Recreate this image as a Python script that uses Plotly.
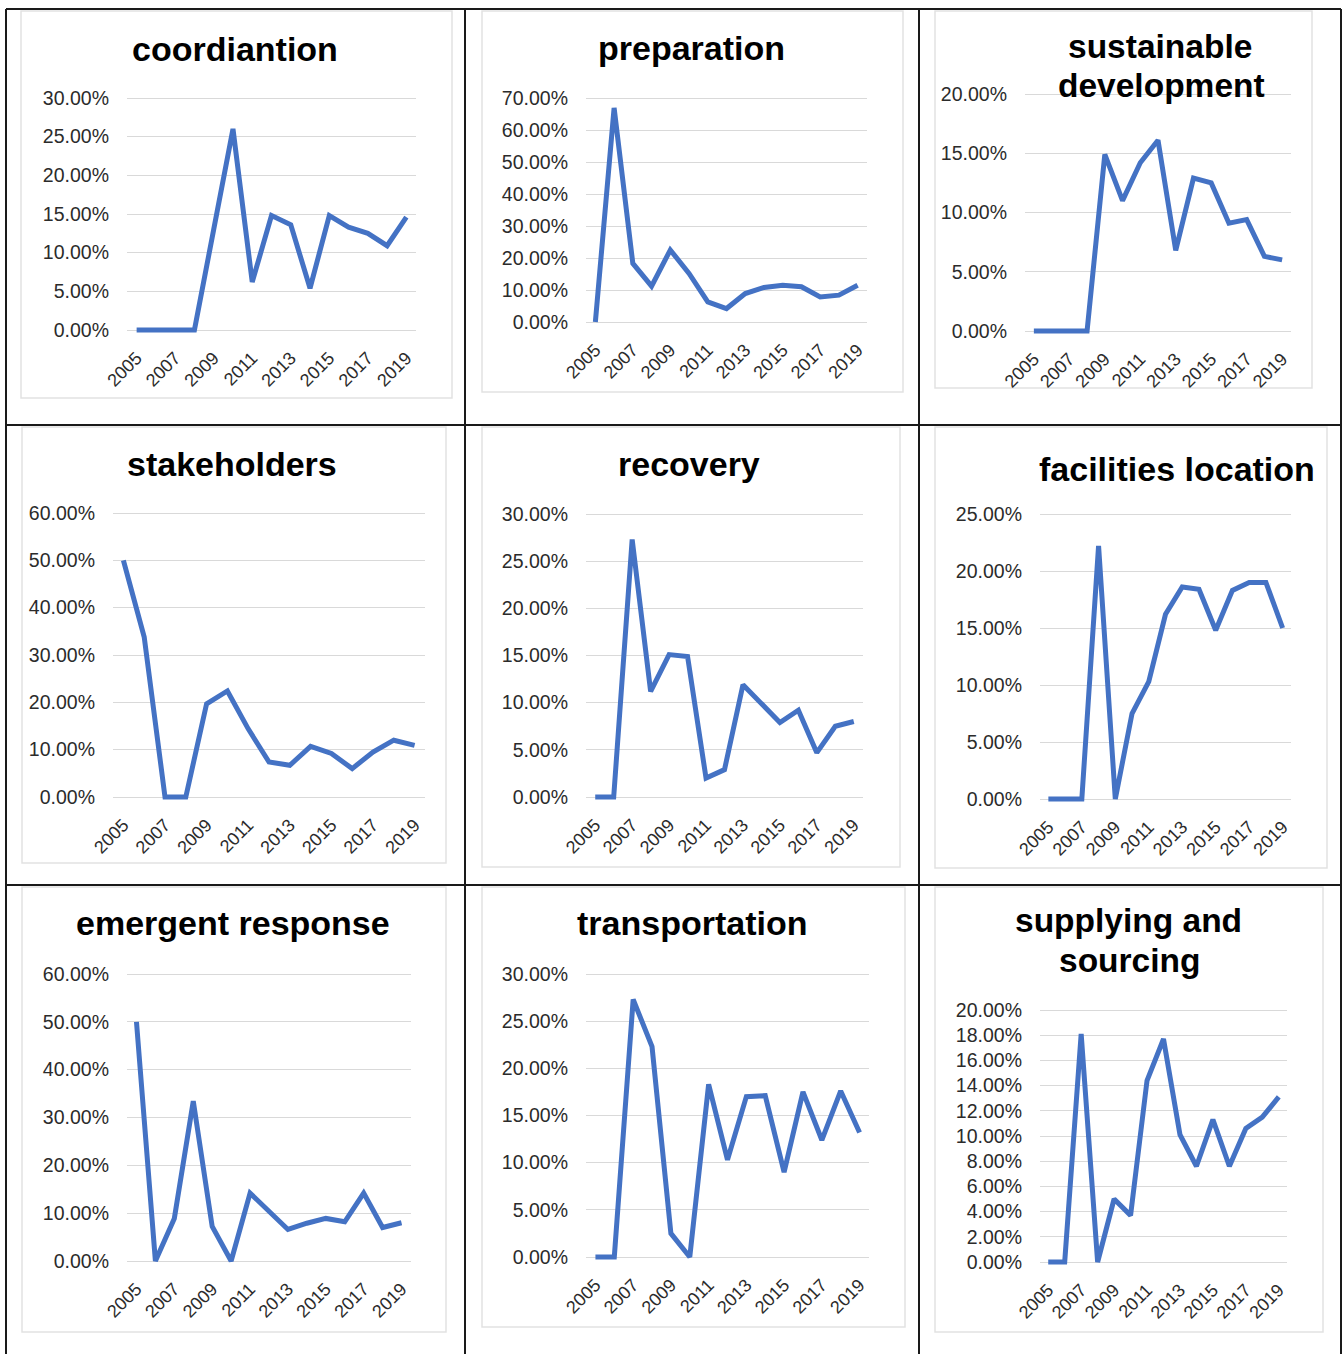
import plotly.graph_objects as go

# ---------------- data (percent values) ----------------
years = list(range(2005, 2020))
year_ticks = [2005, 2007, 2009, 2011, 2013, 2015, 2017, 2019]

coordination = [0, 0, 0, 0, 13.0, 26.0, 6.2, 14.8, 13.6, 5.4, 14.8, 13.3, 12.5, 10.9, 14.6]
preparation = [0, 66.9, 18.3, 11.2, 22.5, 15.2, 6.3, 4.2, 8.9, 10.8, 11.5, 11.0, 7.8, 8.4, 11.5]
sustainable = [0, 0, 0, 0, 14.9, 11.0, 14.2, 16.1, 6.8, 12.9, 12.5, 9.1, 9.4, 6.3, 6.0]
stakeholders = [50.0, 33.8, 0, 0, 19.7, 22.4, 14.4, 7.4, 6.7, 10.7, 9.2, 6.0, 9.5, 12.0, 10.9]
recovery = [0, 0, 27.3, 11.2, 15.1, 14.9, 2.0, 2.9, 11.9, 9.9, 7.9, 9.2, 4.7, 7.5, 8.0]
facilities = [0, 0, 0, 22.2, 0, 7.5, 10.3, 16.2, 18.6, 18.4, 14.8, 18.3, 19.0, 19.0, 15.0]
emergent = [50.0, 0, 8.9, 33.4, 7.2, 0, 14.2, 10.3, 6.6, 7.9, 8.9, 8.2, 14.2, 7.0, 8.0]
transportation = [0, 0, 27.3, 22.3, 2.5, 0, 18.3, 10.3, 17.0, 17.1, 9.0, 17.5, 12.4, 17.6, 13.2]
supplying = [0, 0, 18.1, 0, 5.0, 3.7, 14.4, 17.7, 10.1, 7.6, 11.3, 7.6, 10.6, 11.5, 13.1]

titles = [
    ["coordiantion"],
    ["preparation"],
    ["sustainable", "development"],
    ["stakeholders"],
    ["recovery"],
    ["facilities location"],
    ["emergent response"],
    ["transportation"],
    ["supplying and", "sourcing"],
]
series = [coordination, preparation, sustainable, stakeholders, recovery,
          facilities, emergent, transportation, supplying]
y_max = [30, 70, 20, 60, 30, 25, 60, 30, 20]
y_step = [5, 10, 5, 10, 5, 5, 10, 5, 2]

# ---------------- layout geometry (pixels) ----------------
W, H = 1344, 1354
# plot area: x_left, x_right, y_top(max gridline), y_zero
plot_px = [
    (127, 416, 98, 330),
    (586, 867, 98, 322),
    (1025, 1291, 94, 331),
    (113, 425, 513, 797),
    (586, 863, 514, 797),
    (1040, 1291, 514, 799),
    (127, 411, 974, 1261),
    (586, 869, 974, 1257),
    (1040, 1287, 1010, 1262),
]
# title line centres (x, y) in pixels, and title font size
title_px = [
    [(235, 48.5)],
    [(691, 48)],
    [(1160, 46.5), (1161, 85)],
    [(232, 463.5)],
    [(689, 463.5)],
    [(1177, 469)],
    [(233, 922.5)],
    [(692, 922.5)],
    [(1128, 921), (1129, 960)],
]
title_size = [34, 34, 33.5, 34, 34, 34, 34, 34, 33.5]
# faint chart-area frames (x0, x1, y0, y1)
frame_px = [
    (21, 452, 11, 398), (482, 903, 11, 392), (935, 1312, 11, 388),
    (22, 446, 427, 863), (482, 900, 427, 867), (935, 1327, 427, 868),
    (22, 446, 887, 1332), (482, 905, 887, 1327), (935, 1323, 887, 1332),
]

FONT = "Liberation Sans, Arial, Helvetica, sans-serif"
LINE_COLOR = "#4472C4"
PAD = 5  # px padding so lines on 0 are not clipped


def fx(px):
    return px / W


def fy(py):
    return 1 - py / H


fig = go.Figure()
layout = dict(
    width=W, height=H, autosize=False,
    margin=dict(l=0, r=0, t=0, b=0, pad=0),
    paper_bgcolor="white", plot_bgcolor="rgba(0,0,0,0)",
    showlegend=False,
    font=dict(family=FONT, color="#333333"),
)
annotations = []
shapes = []

for i in range(9):
    k = "" if i == 0 else str(i + 1)
    x0, x1, yt, y0 = plot_px[i]
    ppu = (y0 - yt) / y_max[i]
    pad_u = PAD / ppu
    fig.add_trace(go.Scatter(
        x=years, y=series[i], mode="lines",
        line=dict(color=LINE_COLOR, width=5),
        xaxis="x" + k, yaxis="y" + k, hoverinfo="x+y",
    ))
    layout["xaxis" + k] = dict(
        domain=[fx(x0), fx(x1)], anchor="y" + k, automargin=False,
        range=[2004.5, 2019.5], tickmode="array", tickvals=year_ticks,
        ticktext=[str(t) for t in year_ticks],
        tickangle=-45, showgrid=False, zeroline=False, showline=False,
        ticks="", ticklabelstandoff=8,
        tickfont=dict(family=FONT, size=18, color="#2b2b2b"),
        fixedrange=True,
    )
    ticks = list(range(0, y_max[i] + 1, y_step[i]))
    layout["yaxis" + k] = dict(
        domain=[fy(y0 + PAD), fy(yt - PAD)], anchor="x" + k, automargin=False,
        range=[-pad_u, y_max[i] + pad_u], tickmode="array", tickvals=ticks,
        ticktext=["%.2f%%" % t for t in ticks],
        showgrid=True, gridcolor="#d9d9d9", gridwidth=1.2,
        zeroline=False, showline=False, ticks="", ticklabelstandoff=17,
        tickfont=dict(family=FONT, size=19.5, color="#2b2b2b"),
        fixedrange=True,
    )
    for text, (cx, cy) in zip(titles[i], title_px[i]):
        annotations.append(dict(
            text="<b>%s</b>" % text, x=fx(cx), y=fy(cy), xref="paper", yref="paper",
            xanchor="center", yanchor="middle", showarrow=False, borderpad=0,
            font=dict(family=FONT, size=title_size[i], color="black"),
        ))
    fx0, fx1, fy0, fy1 = frame_px[i]
    shapes.append(dict(type="rect", xref="paper", yref="paper",
                       x0=fx(fx0), x1=fx(fx1), y0=fy(fy1), y1=fy(fy0),
                       line=dict(color="#e2e2e2", width=1.5), layer="below"))

# table borders
for bx in [6, 465, 919, 1341]:
    shapes.append(dict(type="line", xref="paper", yref="paper",
                       x0=fx(bx), x1=fx(bx), y0=0, y1=fy(9),
                       line=dict(color="#1a1a1a", width=2)))
for by in [9, 425, 885]:
    shapes.append(dict(type="line", xref="paper", yref="paper",
                       x0=fx(6), x1=fx(1341), y0=fy(by), y1=fy(by),
                       line=dict(color="#1a1a1a", width=2)))

layout["annotations"] = annotations
layout["shapes"] = shapes
fig.update_layout(**layout)
fig.write_html(
    "out.html",
    config={"displayModeBar": False},
    post_script="document.body.style.margin='0';document.body.style.overflow='hidden';",
)
